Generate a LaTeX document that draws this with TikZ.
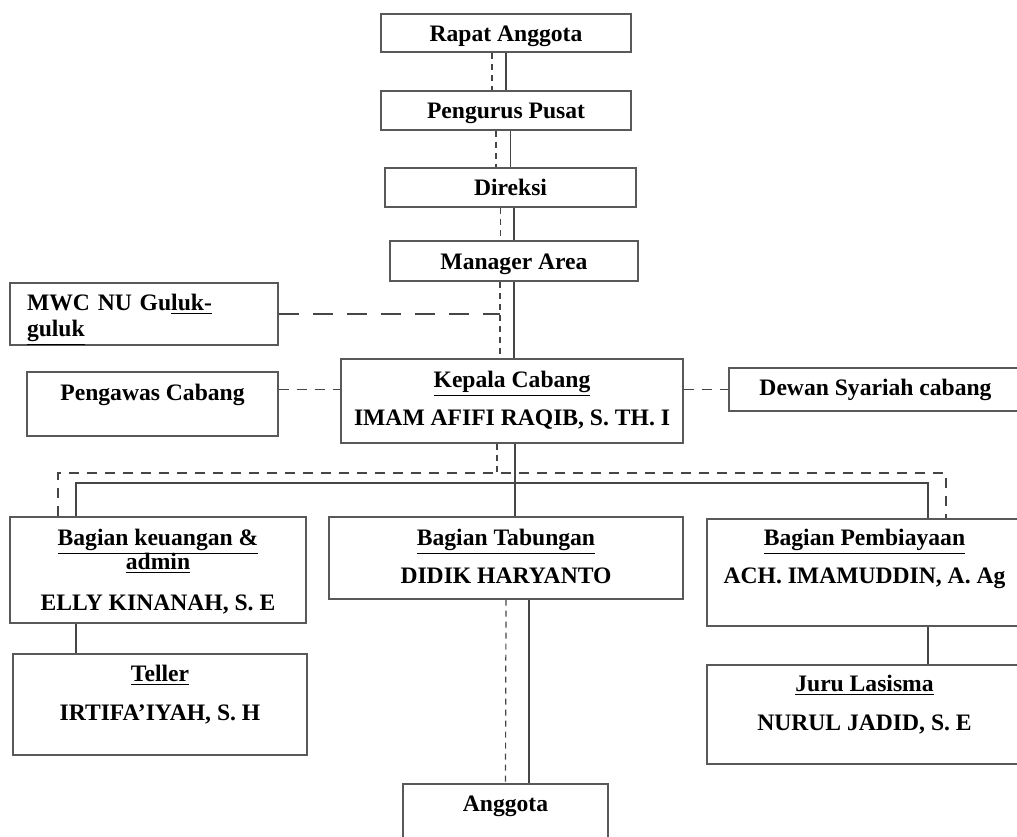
\documentclass[tikz,border=0pt]{standalone}
\usepackage{fontspec}
\setmainfont{Liberation Serif}

\begin{document}
\begin{tikzpicture}[
        x=0.5pt, y=-0.5pt,
        every node/.style={font=\fontsize{11.8}{14}\selectfont\bfseries, align=center},
        unit/.style={draw=gray!70!black, line width=0.7pt, fill=white, inner sep=0pt, text height=8pt, text depth=0pt},
        line/.style={draw=gray!55!black, line width=0.6pt},
        dline/.style={line, dash pattern=on 3pt off 2.5pt},
        longdash/.style={line, dash pattern=on 10pt off 7pt},
        busdash/.style={line, dash pattern=on 5pt off 4pt}
    ]
        \clip (0,0) rectangle (1017,836);

        \node[unit, minimum width=125pt, minimum height=19pt] (rapat) at (506,33) {Rapat Anggota};
        \node[unit, minimum width=125pt, minimum height=19.5pt] (pengurus) at (506,110.5) {Pengurus Pusat};
        \node[unit, minimum width=125.5pt, minimum height=19.5pt] (direksi) at (510.5,187.5) {Direksi};
        \node[unit, minimum width=124pt, minimum height=20pt] (manager) at (514,261) {Manager Area};
        \node[unit, minimum width=134pt, minimum height=31pt, text width=117pt, align=left, inner xsep=8.5pt, text depth=12pt] (mwc) at (144,314) {MWC NU Gu\underline{luk-}\\[-1pt]\underline{guluk}};
        \node[unit, minimum width=125.5pt, minimum height=32pt, text depth=12pt] (pengawas) at (152.5,404) {Pengawas Cabang};
        \node[unit, minimum width=171pt, minimum height=42pt, text height=27pt, text depth=3pt] (kepala) at (512,401) {\underline{Kepala Cabang}\\[5pt]IMAM AFIFI RAQIB, S. TH. I};
        \node[unit, minimum width=146.5pt, minimum height=21.5pt, text depth=2.5pt] (dewan) at (875.5,389.5) {Dewan Syariah cabang};
        \node[unit, minimum width=148pt, minimum height=53pt, text height=40.5pt, text depth=0.5pt] (keuangan) at (158,570) {\underline{Bagian keuangan \&}\\[-2pt]\underline{admin}\\[6.5pt]ELLY KINANAH, S. E};
        \node[unit, minimum width=147pt, minimum height=50.5pt, text height=27.5pt, text depth=12pt] (teller) at (160,704.5) {\underline{Teller}\\[5.5pt]IRTIFA’IYAH, S. H};
        \node[unit, minimum width=177pt, minimum height=41pt, text height=27pt, text depth=2pt] (tabungan) at (506,558) {\underline{Bagian Tabungan}\\[5pt]DIDIK HARYANTO};
        \node[unit, minimum width=157.5pt, minimum height=53.5pt, text height=27pt, text depth=16.5pt] (pembiayaan) at (864.5,572.5) {\underline{Bagian Pembiayaan}\\[5pt]ACH. IMAMUDDIN, A. Ag};
        \node[unit, minimum width=157.5pt, minimum height=49.5pt, text height=27.5pt, text depth=12pt] (juru) at (864.5,714.5) {\underline{Juru Lasisma}\\[5.5pt]NURUL JADID, S. E};
        \node[unit, minimum width=102.5pt, minimum height=33pt, text depth=14pt] (anggota) at (505.5,817) {Anggota};

        % bus corners
        \coordinate (bus) at (515,483);
        \coordinate (busL) at (76,483);
        \coordinate (busR) at (928,483);
        \coordinate (dbus) at (497,473);
        \coordinate (dbusL) at (58,473);
        \coordinate (dbusR) at (946,473);
        \coordinate (spine) at ([xshift=-7pt]manager.south);

        % solid lines
        \draw[line] (rapat.south) -- (rapat.south |- pengurus.north);
        \draw[line] (pengurus.south -| direksi.north) -- (direksi.north);
        \draw[line] (direksi.south -| manager.north) -- (manager.north);
        \draw[line] (manager.south) -- (manager.south |- kepala.north);
        \draw[line] (kepala.south -| bus) -- (bus) -- (tabungan.north -| bus);
        \draw[line] (busL |- keuangan.north) -- (busL) -- (busR) -- (busR |- pembiayaan.north);
        \draw[line] (busL |- keuangan.south) -- (busL |- teller.north);
        \draw[line] (busR |- pembiayaan.south) -- (busR |- juru.north);
        \draw[line] ([xshift=11.5pt]tabungan.south) -- ([xshift=11.5pt]tabungan.south |- anggota.north);

        % dashed lines
        \draw[dline] ([xshift=-7pt]rapat.south) -- ([xshift=-7pt]rapat.south |- pengurus.north);
        \draw[dline] ([xshift=-5pt]pengurus.south) -- ([xshift=-5pt]pengurus.south |- direksi.north);
        \draw[dline] ([xshift=-5pt]direksi.south) -- ([xshift=-5pt]direksi.south |- manager.north);
        \draw[dline] (spine) -- (spine |- kepala.north);
        \draw[longdash] (mwc.east) -- (mwc.east -| spine);
        \draw[busdash] (pengawas.east |- dewan.west) -- (kepala.west |- dewan.west);
        \draw[busdash] (kepala.east |- dewan.west) -- (dewan.west);
        \draw[dline] (kepala.south -| dbus) -- (dbus);
        \draw[busdash] (dbusL |- keuangan.north) -- (dbusL) -- (dbusR) -- (dbusR |- pembiayaan.north);
        \draw[dline] (tabungan.south) -- (anggota.north);
    \end{tikzpicture}
\end{document}
